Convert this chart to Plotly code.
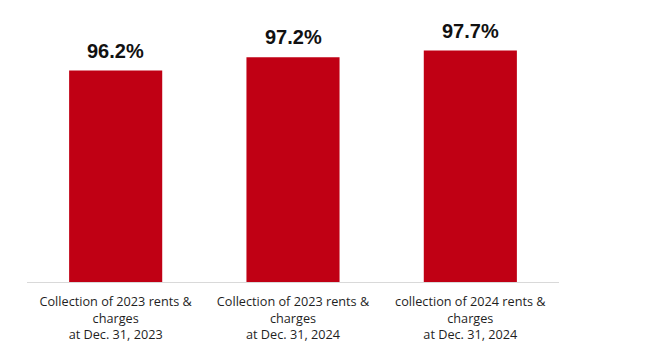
import plotly.graph_objects as go

categories = [
    "Collection of 2023 rents &<br>charges<br>at Dec. 31, 2023",
    "Collection of 2023 rents &<br>charges<br>at Dec. 31, 2024",
    "collection of 2024 rents &<br>charges<br>at Dec. 31, 2024",
]
values = [96.2, 97.2, 97.7]
labels = ["96.2%", "97.2%", "97.7%"]

BAR_COLOR = "#C00014"

fig = go.Figure()
fig.add_trace(go.Bar(
    x=categories, y=values, marker=dict(color=BAR_COLOR, line=dict(width=0)),
    hoverinfo="skip",
))
for c, v, t in zip(categories, values, labels):
    fig.add_annotation(x=c, y=v, text="<b>" + t + "</b>", showarrow=False, yanchor="bottom", yshift=7,
                       font=dict(family="Liberation Sans, Arial", size=20, color="#111111"))

fig.update_layout(
    width=668, height=357,
    margin=dict(l=19, r=117, t=12, b=83),
    paper_bgcolor="white", plot_bgcolor="white",
    bargap=0.475, showlegend=False,
    font=dict(family="Open Sans, sans-serif", size=12.7, color="#1F1F1F"),
)
fig.update_xaxes(showline=True, linecolor="#D9D9D9", linewidth=1, ticks="", showgrid=False,
                 automargin=False, ticklabelstandoff=8, tickfont=dict(size=12.7, color="#1F1F1F"))
fig.update_yaxes(range=[80.3, 100], visible=False, showgrid=False, automargin=False)
fig.write_html("out.html")
